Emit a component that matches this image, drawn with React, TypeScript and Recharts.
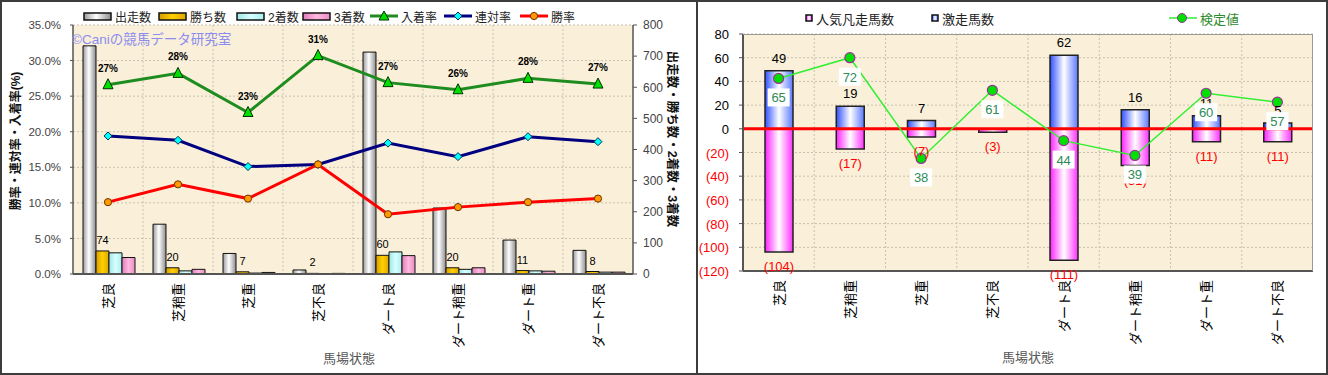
import React from 'react';
import { ComposedChart, Bar, Line, XAxis, YAxis, CartesianGrid, LabelList, ReferenceLine } from 'recharts';

const FONT = '"Liberation Sans", "Noto Sans CJK JP", sans-serif';

// track conditions (shared by both panels)
const categories = ['芝良', '芝稍重', '芝重', '芝不良', 'ダート良', 'ダート稍重', 'ダート重', 'ダート不良'];

// left panel: counts (right axis)
const starters = [733, 160, 66, 13, 713, 212, 109, 76];
const wins = [74, 20, 7, 2, 60, 20, 11, 8];
const seconds = [68, 10, 3, 0, 71, 15, 10, 6];
const thirds = [53, 15, 5, 2, 59, 20, 9, 6];

// left panel: rates in % (left axis)
const placeRate = [26.6, 28.2, 22.7, 30.7, 26.9, 25.9, 27.5, 26.7];
const quinellaRate = [19.4, 18.8, 15.1, 15.4, 18.4, 16.5, 19.3, 18.6];
const winRate = [10.1, 12.6, 10.6, 15.4, 8.4, 9.4, 10.1, 10.6];

const rateTicks = [0, 5, 10, 15, 20, 25, 30, 35];
const countTicks = [0, 100, 200, 300, 400, 500, 600, 700, 800];

// right panel
const surgeCount = [49, 19, 7, 0, 62, 16, 11, 5];
const flopCount = [-104, -17, -7, -3, -111, -31, -11, -11];
const testValue = [65, 72, 38, 61, 44, 39, 60, 57];
const diffTicks = [-120, -100, -80, -60, -40, -20, 0, 20, 40, 60, 80];

const leftRows = categories.map((name, i) => ({
  name,
  starters: starters[i],
  wins: wins[i],
  seconds: seconds[i],
  thirds: thirds[i],
  place: placeRate[i],
  quinella: quinellaRate[i],
  win: winRate[i],
}));

const rightRows = categories.map((name, i) => ({
  name,
  surge: surgeCount[i],
  flop: flopCount[i],
  test: testValue[i],
}));

const PLOT_BG = '#faf0d9';
const GRID = '#c8c0b0';

// vertical grid lines at category boundaries
const bandEdges = ({ offset }: any) =>
  categories.slice(1).map((_, i) => offset.left + (offset.width * (i + 1)) / categories.length);

const GradientDefs = () => (
  <svg width={0} height={0} style={{ position: 'absolute' }}>
    <defs>
      <linearGradient id="gSilver" x1="0" y1="0" x2="1" y2="0">
        <stop offset="0%" stopColor="#9a9a9a" />
        <stop offset="45%" stopColor="#ffffff" />
        <stop offset="100%" stopColor="#8c8c8c" />
      </linearGradient>
      <linearGradient id="gGold" x1="0" y1="0" x2="1" y2="0">
        <stop offset="0%" stopColor="#d89c00" />
        <stop offset="50%" stopColor="#ffd000" />
        <stop offset="100%" stopColor="#e0a400" />
      </linearGradient>
      <linearGradient id="gCyan" x1="0" y1="0" x2="1" y2="0">
        <stop offset="0%" stopColor="#9ee6e6" />
        <stop offset="50%" stopColor="#d8ffff" />
        <stop offset="100%" stopColor="#a8eeee" />
      </linearGradient>
      <linearGradient id="gRose" x1="0" y1="0" x2="1" y2="0">
        <stop offset="0%" stopColor="#e07cbc" />
        <stop offset="50%" stopColor="#ffb8de" />
        <stop offset="100%" stopColor="#e88cc6" />
      </linearGradient>
      <linearGradient id="gBlue" x1="0" y1="0" x2="1" y2="0">
        <stop offset="0%" stopColor="#3050ff" />
        <stop offset="50%" stopColor="#ffffff" />
        <stop offset="100%" stopColor="#5a78ff" />
      </linearGradient>
      <linearGradient id="gPink" x1="0" y1="0" x2="1" y2="0">
        <stop offset="0%" stopColor="#ff20ff" />
        <stop offset="50%" stopColor="#ffffff" />
        <stop offset="100%" stopColor="#ff30ff" />
      </linearGradient>
    </defs>
  </svg>
);

const VerticalTick = ({ x, y, payload }: any) => {
  const ax = x + 5;
  const ay = y + 9;
  return (
    <text x={ax} y={ay} transform={`rotate(-90 ${ax} ${ay})`} textAnchor="end" fontSize={13} fill="#000">
      {payload.value}
    </text>
  );
};

const DiffTick = ({ x, y, payload }: any) => {
  const v = payload.value;
  return (
    <text x={x} y={y} dy={5} textAnchor="end" fontSize={13} fill={v < 0 ? '#ff0000' : '#000'}>
      {v < 0 ? `(${-v})` : v}
    </text>
  );
};

const TriangleDot = ({ cx, cy, index }: any) => (
  <path key={index} d={`M${cx},${cy - 6}L${cx + 5},${cy + 4}L${cx - 5},${cy + 4}Z`} fill="#00e000" stroke="#003000" strokeWidth={1} />
);
const DiamondDot = ({ cx, cy, index }: any) => (
  <path key={index} d={`M${cx},${cy - 4}L${cx + 4},${cy}L${cx},${cy + 4}L${cx - 4},${cy}Z`} fill="#00ffff" stroke="#003050" strokeWidth={1} />
);
const OrangeDot = ({ cx, cy, index }: any) => (
  <circle key={index} cx={cx} cy={cy} r={3.6} fill="#ff9900" stroke="#703000" strokeWidth={1} />
);
const TestDot = ({ cx, cy, index }: any) => (
  <circle key={index} cx={cx} cy={cy} r={5} fill="#00e000" stroke="#993399" strokeWidth={1.2} />
);

const SurgeLabel = (props: any) => {
  const { x, y, width, height } = props.viewBox || props;
  if (!props.value) return null;
  const top = Math.min(y, y + height);
  return (
    <text x={x + width / 2} y={top - 8} textAnchor="middle" fontSize={13} fill="#000">
      {props.value}
    </text>
  );
};

const FlopLabel = (props: any) => {
  const { x, y, width, height } = props.viewBox || props;
  const bottom = Math.max(y, y + height);
  return (
    <text x={x + width / 2} y={bottom + 19} textAnchor="middle" fontSize={13} fill="#ff0000">
      {`(${-props.value})`}
    </text>
  );
};

const TestLabel = (props: any) => {
  const { x, y } = props.viewBox || props;
  return (
    <g>
      <rect x={x - 11} y={y + 10} width={22} height={18} fill="#ffffff" />
      <text x={x} y={y + 24} textAnchor="middle" fontSize={13} fill="#2e8b57">
        {props.value}
      </text>
    </g>
  );
};

const LeftChart = () => (
  <ComposedChart
    width={697}
    height={373}
    data={leftRows}
    margin={{ top: 25, right: 24, bottom: 19, left: 23 }}
    barCategoryGap={10}
    barGap={0}
  >
    <CartesianGrid yAxisId="rate" fill={PLOT_BG} stroke={GRID} strokeDasharray="2 2" verticalCoordinatesGenerator={bandEdges} />
    <XAxis
      dataKey="name"
      height={80}
      interval={0}
      tickLine={false}
      tickSize={0}
      tickMargin={0}
      tick={(p: any) => <VerticalTick {...p} />}
      axisLine={{ stroke: '#555', strokeWidth: 2 }}
    />
    <YAxis
      yAxisId="rate"
      width={50}
      domain={[0, 35]}
      ticks={rateTicks}
      tickFormatter={(v: number) => v.toFixed(1) + '%'}
      tick={{ fill: '#444', fontSize: 11.5 }}
      tickSize={3}
      tickMargin={9}
      axisLine={{ stroke: '#555', strokeWidth: 1.5 }}
      tickLine={{ stroke: '#555' }}
    />
    <YAxis
      yAxisId="count"
      orientation="right"
      width={40}
      domain={[0, 800]}
      ticks={countTicks}
      tick={{ fill: '#444', fontSize: 12 }}
      tickSize={4}
      tickMargin={6}
      axisLine={{ stroke: '#555', strokeWidth: 1.5 }}
      tickLine={{ stroke: '#555' }}
    />
    <Bar yAxisId="count" dataKey="starters" fill="url(#gSilver)" stroke="#111" strokeWidth={1} isAnimationActive={false} />
    <Bar yAxisId="count" dataKey="wins" fill="url(#gGold)" stroke="#111" strokeWidth={1} isAnimationActive={false}>
      <LabelList dataKey="wins" position="top" offset={7} fontSize={11} fill="#000" />
    </Bar>
    <Bar yAxisId="count" dataKey="seconds" fill="url(#gCyan)" stroke="#111" strokeWidth={1} isAnimationActive={false} />
    <Bar yAxisId="count" dataKey="thirds" fill="url(#gRose)" stroke="#111" strokeWidth={1} isAnimationActive={false} />
    <Line yAxisId="rate" type="linear" dataKey="place" stroke="#1e8c1e" strokeWidth={3} dot={(p: any) => <TriangleDot {...p} />} isAnimationActive={false}>
      <LabelList
        dataKey="place"
        position="top"
        offset={13}
        fontSize={10}
        fontWeight="bold"
        fill="#000"
        formatter={(v: any) => `${Math.round(v)}%`}
      />
    </Line>
    <Line yAxisId="rate" type="linear" dataKey="quinella" stroke="#000080" strokeWidth={3} dot={(p: any) => <DiamondDot {...p} />} isAnimationActive={false} />
    <Line yAxisId="rate" type="linear" dataKey="win" stroke="#ff0000" strokeWidth={3} dot={(p: any) => <OrangeDot {...p} />} isAnimationActive={false} />
  </ComposedChart>
);

const RightChart = () => (
  <ComposedChart
    width={630}
    height={373}
    data={rightRows}
    margin={{ top: 34, right: 15, bottom: 20, left: 5 }}
    stackOffset="sign"
  >
    <CartesianGrid yAxisId="main" fill={PLOT_BG} stroke={GRID} strokeDasharray="2 2" verticalCoordinatesGenerator={bandEdges} />
    <XAxis
      dataKey="name"
      height={82}
      interval={0}
      tickLine={false}
      tickSize={0}
      tickMargin={0}
      tick={(p: any) => <VerticalTick {...p} />}
      axisLine={{ stroke: '#555', strokeWidth: 2 }}
    />
    <YAxis
      yAxisId="main"
      width={40}
      domain={[-120, 80]}
      ticks={diffTicks}
      tick={(p: any) => <DiffTick {...p} />}
      tickSize={4}
      tickMargin={10}
      axisLine={{ stroke: '#555', strokeWidth: 2 }}
      tickLine={{ stroke: '#555' }}
    />
    <YAxis yAxisId="test" orientation="right" domain={[0, 80]} hide />
    <Bar yAxisId="main" dataKey="flop" stackId="s" barSize={28} fill="url(#gPink)" stroke="#222" strokeWidth={1.5} isAnimationActive={false}>
      <LabelList dataKey="flop" content={(p: any) => <FlopLabel {...p} />} />
    </Bar>
    <Bar yAxisId="main" dataKey="surge" stackId="s" barSize={28} fill="url(#gBlue)" stroke="#222" strokeWidth={1.5} isAnimationActive={false}>
      <LabelList dataKey="surge" content={(p: any) => <SurgeLabel {...p} />} />
    </Bar>
    <ReferenceLine yAxisId="main" y={0} stroke="#ff0000" strokeWidth={3} />
    <Line yAxisId="test" type="linear" dataKey="test" stroke="#33ee33" strokeWidth={1.5} dot={(p: any) => <TestDot {...p} />} isAnimationActive={false}>
      <LabelList dataKey="test" content={(p: any) => <TestLabel {...p} />} />
    </Line>
  </ComposedChart>
);

const abs = (left: number, top: number, extra: React.CSSProperties = {}): React.CSSProperties => ({
  position: 'absolute',
  left,
  top,
  whiteSpace: 'nowrap',
  ...extra,
});

const BarIcon = ({ fill, w = 27, h = 7 }: { fill: string; w?: number; h?: number }) => (
  <svg width={w + 2} height={h + 2} style={{ display: 'block' }}>
    <rect x={1} y={1} width={w} height={h} fill={fill} stroke="#111" strokeWidth={1.5} />
  </svg>
);

const LineIcon = ({ color, marker }: { color: string; marker: 'tri' | 'dia' | 'dot' | 'test' }) => (
  <svg width={28} height={12} style={{ display: 'block' }}>
    <line x1={0} y1={6} x2={28} y2={6} stroke={color} strokeWidth={marker === 'test' ? 1.5 : 3} />
    {marker === 'tri' && <path d="M14,1L19,10L9,10Z" fill="#00e000" stroke="#003000" />}
    {marker === 'dia' && <path d="M14,2L18,6L14,10L10,6Z" fill="#00ffff" stroke="#003050" />}
    {marker === 'dot' && <circle cx={14} cy={6} r={3.6} fill="#ff9900" stroke="#703000" />}
    {marker === 'test' && <circle cx={13} cy={6} r={4.5} fill="#00e000" stroke="#993399" />}
  </svg>
);

const LegendItem = ({ x, y, icon, label, color = '#222', size = 12 }: any) => (
  <div style={abs(x, y, { display: 'flex', alignItems: 'center', gap: 3, fontSize: size, color, height: 16, transform: 'translateY(-50%)' })}>
    {icon}
    <span>{label}</span>
  </div>
);

const App = () => (
  <div style={{ position: 'absolute', left: 0, top: 0, width: 1328, height: 375, background: '#fff', fontFamily: FONT, overflow: 'hidden' }}>
    <GradientDefs />
    <div style={abs(0, 0)}>
      <LeftChart />
    </div>
    <div style={abs(698, 0)}>
      <RightChart />
    </div>

    {/* left legend */}
    <LegendItem x={83} y={16} icon={<BarIcon fill="url(#gSilver)" />} label="出走数" />
    <LegendItem x={158} y={16} icon={<BarIcon fill="url(#gGold)" />} label="勝ち数" />
    <LegendItem x={236} y={16} icon={<BarIcon fill="url(#gCyan)" />} label="2着数" />
    <LegendItem x={302} y={16} icon={<BarIcon fill="url(#gRose)" />} label="3着数" />
    <LegendItem x={370} y={16} icon={<LineIcon color="#1e8c1e" marker="tri" />} label="入着率" />
    <LegendItem x={444} y={16} icon={<LineIcon color="#000080" marker="dia" />} label="連対率" />
    <LegendItem x={520} y={16} icon={<LineIcon color="#ff0000" marker="dot" />} label="勝率" />

    {/* right legend */}
    <LegendItem x={805} y={18} icon={<BarIcon fill="url(#gPink)" w={6} h={6} />} label="人気凡走馬数" size={13} />
    <LegendItem x={931} y={18} icon={<BarIcon fill="url(#gBlue)" w={6} h={6} />} label="激走馬数" size={13} />
    <LegendItem x={1169} y={18} icon={<LineIcon color="#33ee33" marker="test" />} label="検定値" size={13} color="#2e8b2e" />

    {/* watermark */}
    <div style={abs(72, 31, { fontSize: 13.5, color: '#8c8cf0', lineHeight: '18px' })}>©Caniの競馬データ研究室</div>

    {/* axis titles */}
    <div style={abs(14, 141, { fontSize: 12, fontWeight: 'bold', color: '#111', transform: 'translate(-50%,-50%) rotate(-90deg)' })}>
      勝率・連対率・入着率(%)
    </div>
    <div style={abs(673, 139, { fontSize: 12.5, fontWeight: 'bold', color: '#111', transform: 'translate(-50%,-50%) rotate(90deg)' })}>
      出走数・勝ち数・2着数・3着数
    </div>
    <div style={abs(349, 357, { fontSize: 13, color: '#555', transform: 'translate(-50%,-50%)' })}>馬場状態</div>
    <div style={abs(1028, 356, { fontSize: 13, color: '#555', transform: 'translate(-50%,-50%)' })}>馬場状態</div>

    {/* right plot frame (top / right edges) */}
    <div style={abs(743, 34, { width: 570, height: 237, borderTop: '1px solid #999', borderRight: '1.5px solid #999', boxSizing: 'border-box' })} />

    {/* panel frames */}
    <div style={abs(0, 0, { width: 1328, height: 375, border: '2px solid #3c3c3c', boxSizing: 'border-box' })} />
    <div style={abs(696, 0, { width: 2, height: 375, background: '#3c3c3c' })} />
  </div>
);

export default App;
